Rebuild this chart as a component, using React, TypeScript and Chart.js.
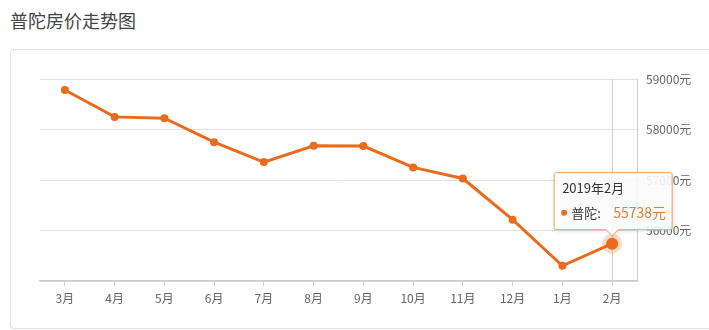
import React, { useEffect, useRef } from "react";
import { Chart, registerables } from "chart.js";

Chart.register(...registerables);

const categories = ["3月", "4月", "5月", "6月", "7月", "8月", "9月", "10月", "11月", "12月", "1月", "2月"];
const prices = [58783, 58250, 58224, 57750, 57355, 57677, 57672, 57250, 57030, 56215, 55302, 55738];
const yTickValues = [55000, 56000, 57000, 58000, 59000];
const seriesName = "普陀";
const tooltipYear = "2019年";
const titleText = "普陀房价走势图";

const FONT = "'Noto Sans CJK SC', 'Noto Sans', sans-serif";
const LINE = "#e96b1c";

export default function App() {
  const ref = useRef<HTMLCanvasElement | null>(null);

  useEffect(() => {
    document.body.style.margin = "0";
    const canvas = ref.current;
    if (!canvas) return;
    const last = prices.length - 1;

    const overlay = {
      id: "overlay",
      beforeDatasetsDraw(chart: any) {
        const { ctx, chartArea } = chart;
        const meta = chart.getDatasetMeta(0);
        const p = meta.data[last];
        ctx.save();
        ctx.strokeStyle = "#cfcfcf";
        ctx.lineWidth = 1;
        ctx.beginPath();
        ctx.moveTo(Math.round(p.x) + 0.5, chartArea.top);
        ctx.lineTo(Math.round(p.x) + 0.5, chartArea.bottom);
        ctx.stroke();
        ctx.fillStyle = "rgba(240,140,70,0.3)";
        ctx.beginPath();
        ctx.arc(p.x, p.y, 10, 0, Math.PI * 2);
        ctx.fill();
        ctx.restore();
      },
      afterDraw(chart: any) {
        const { ctx } = chart;
        const meta = chart.getDatasetMeta(0);
        const p = meta.data[last];
        const w = 118;
        const h = 57;
        const left = p.x - 58;
        const bottom = p.y - 14;
        const top = bottom - h;
        ctx.save();
        ctx.shadowColor = "rgba(0,0,0,0.15)";
        ctx.shadowBlur = 5;
        ctx.shadowOffsetX = 1;
        ctx.shadowOffsetY = 1;
        ctx.fillStyle = "rgba(255,255,255,0.88)";
        ctx.strokeStyle = "#eaa462";
        ctx.lineWidth = 1;
        ctx.beginPath();
        const r = 2;
        ctx.moveTo(left + r, top);
        ctx.lineTo(left + w - r, top);
        ctx.quadraticCurveTo(left + w, top, left + w, top + r);
        ctx.lineTo(left + w, bottom - r);
        ctx.quadraticCurveTo(left + w, bottom, left + w - r, bottom);
        ctx.lineTo(p.x + 6, bottom);
        ctx.lineTo(p.x, bottom + 6);
        ctx.lineTo(p.x - 6, bottom);
        ctx.lineTo(left + r, bottom);
        ctx.quadraticCurveTo(left, bottom, left, bottom - r);
        ctx.lineTo(left, top + r);
        ctx.quadraticCurveTo(left, top, left + r, top);
        ctx.closePath();
        ctx.fill();
        ctx.shadowColor = "transparent";
        ctx.stroke();
        ctx.textBaseline = "middle";
        ctx.textAlign = "left";
        ctx.font = `13px ${FONT}`;
        ctx.fillStyle = "#333333";
        ctx.fillText(tooltipYear + categories[last], left + 8, top + 15);
        ctx.fillStyle = LINE;
        ctx.beginPath();
        ctx.arc(left + 10, top + 40, 3, 0, Math.PI * 2);
        ctx.fill();
        ctx.fillStyle = "#333333";
        ctx.fillText(seriesName + ":", left + 17, top + 40);
        ctx.fillStyle = "#d8843a";
        ctx.font = `14px ${FONT}`;
        ctx.fillText(prices[last] + "元", left + 59, top + 40);
        ctx.restore();
      },
    };

    const chart = new Chart(canvas, {
      type: "line",
      data: {
        labels: categories,
        datasets: [
          {
            label: seriesName,
            data: prices,
            borderColor: LINE,
            backgroundColor: LINE,
            borderWidth: 3,
            pointRadius: (c: any) => (c.dataIndex === last ? 6 : 4),
            pointBackgroundColor: LINE,
            pointBorderColor: LINE,
            pointBorderWidth: 0,
            tension: 0,
          },
        ],
      },
      options: {
        responsive: false,
        animation: false,
        events: [],
        layout: { padding: { left: 40, top: 79, right: 0, bottom: 0 } },
        plugins: {
          legend: { display: false },
          tooltip: { enabled: false },
          title: { display: false },
        },
        scales: {
          x: {
            offset: true,
            afterFit: (s: any) => {
              s.height = 49;
            },
            grid: {
              offset: false,
              drawOnChartArea: false,
              drawTicks: true,
              tickLength: 5,
              color: "#cccccc",
            },
            border: { display: true, color: "#cccccc", width: 1.5 },
            ticks: {
              color: "#666666",
              padding: 5,
              font: { family: FONT, size: 12 },
            },
          },
          y: {
            position: "right",
            min: yTickValues[0],
            max: yTickValues[yTickValues.length - 1],
            afterBuildTicks: (s: any) => {
              s.ticks = yTickValues.map((v) => ({ value: v }));
            },
            afterFit: (s: any) => {
              s.width = 72;
            },
            grid: { color: "#e3e3e3", drawTicks: false },
            border: { display: true, color: "#cccccc" },
            ticks: {
              color: "#666666",
              padding: 9,
              font: { family: FONT, size: 12 },
              callback: (v: any) => (v === yTickValues[0] ? "" : v + "元"),
            },
          },
        },
      },
      plugins: [overlay],
    });
    return () => chart.destroy();
  }, []);

  return (
    <div style={{ position: "relative", width: 709, height: 330, overflow: "hidden", background: "#fff" }}>
      <div
        style={{
          position: "absolute",
          left: 10,
          top: 11,
          fontSize: 18,
          lineHeight: "18px",
          color: "#444",
          fontFamily: FONT,
          whiteSpace: "nowrap",
        }}
      >
        {titleText}
      </div>
      <div
        style={{
          position: "absolute",
          left: 10,
          top: 49,
          width: 720,
          height: 280,
          border: "1px solid #e2e2e2",
          borderRadius: 4,
          boxSizing: "border-box",
        }}
      />
      <canvas ref={ref} width={709} height={330} style={{ position: "absolute", left: 0, top: 0 }} />
    </div>
  );
}
